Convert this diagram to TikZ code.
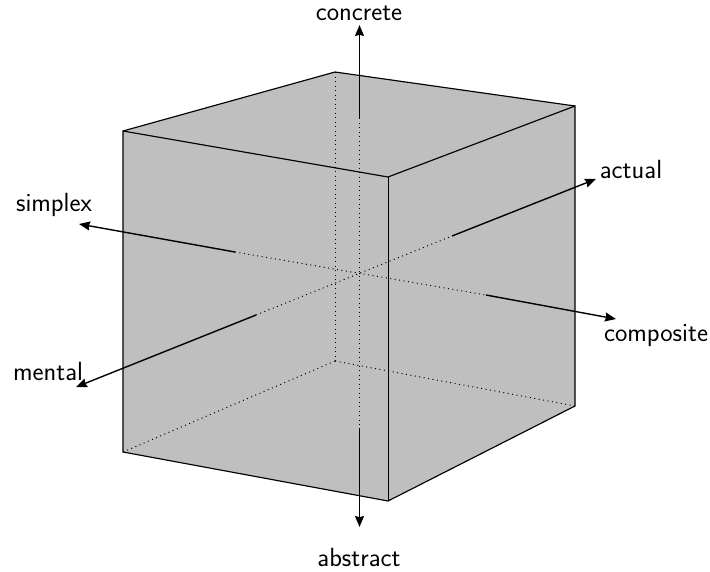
\documentclass[tikz,border=0pt]{standalone}
\usetikzlibrary{arrows.meta}
\tikzset{
  lab/.style={font=\sffamily\fontsize{26.3}{30}\selectfont,inner sep=0pt,text=black},
  edge/.style={black,line width=1.15pt},
  hidden/.style={black,line width=1pt,dash pattern=on 1pt off 3.5pt},
  axis/.style={black,line width=1.4pt,-{Stealth[length=11pt,width=9pt,inset=1.2pt]}},
}
\begin{document}
\begin{tikzpicture}[x=1pt,y=-1pt]
\useasboundingbox (0,0) rectangle (710,571);
\coordinate (ft) at (388,177);
\coordinate (lt) at (123,131);
\coordinate (bt) at (335,72);
\coordinate (rt) at (575,106);
\coordinate (fb) at (388,501);
\coordinate (lb) at (123,452);
\coordinate (rb) at (575,406);
\coordinate (bb) at (335,361);
\fill[black!25] (lt)--(bt)--(rt)--(rb)--(fb)--(lb)--cycle;
\draw[hidden] (bt)--(bb);
\draw[hidden] (lb)--(bb);
\draw[hidden] (rb)--(bb);
\coordinate (cs) at (359.5,118);
\coordinate (cd) at (359.5,428);
\coordinate (ss) at (235,252);
\coordinate (sd) at (486,295);
\coordinate (ms) at (256,315);
\coordinate (md) at (452,236);
\coordinate (ct) at (359.5,25);
\coordinate (at) at (359.5,527);
\coordinate (st) at (79,224);
\coordinate (pt) at (616,319);
\coordinate (mt) at (76,387);
\coordinate (ut) at (596,179);
\draw[hidden] (cs)--(cd);
\draw[hidden] (ss)--(sd);
\draw[hidden] (ms)--(md);
\draw[axis] (cs)--(ct);
\draw[axis] (cd)--(at);
\draw[axis] (ss)--(st);
\draw[axis] (sd)--(pt);
\draw[axis] (ms)--(mt);
\draw[axis] (md)--(ut);
\draw[edge,line join=miter] (lt)--(bt)--(rt)--(rb)--(fb)--(lb)--cycle;
\draw[edge] (lt)--(ft)--(rt);
\draw[edge,line width=1pt] (ft)--(fb);
\node[lab] (nc) at (359,13) {concrete};
\node[lab] (na) at (359,557) {abstract};
\node[lab] (ns) at (54,205) {simplex};
\node[lab] (nm) at (48,371.5) {mental};
\node[lab] (nu) at (631,169) {actual};
\node[lab] (np) at (656,336) {composite};
\end{tikzpicture}
\end{document}
